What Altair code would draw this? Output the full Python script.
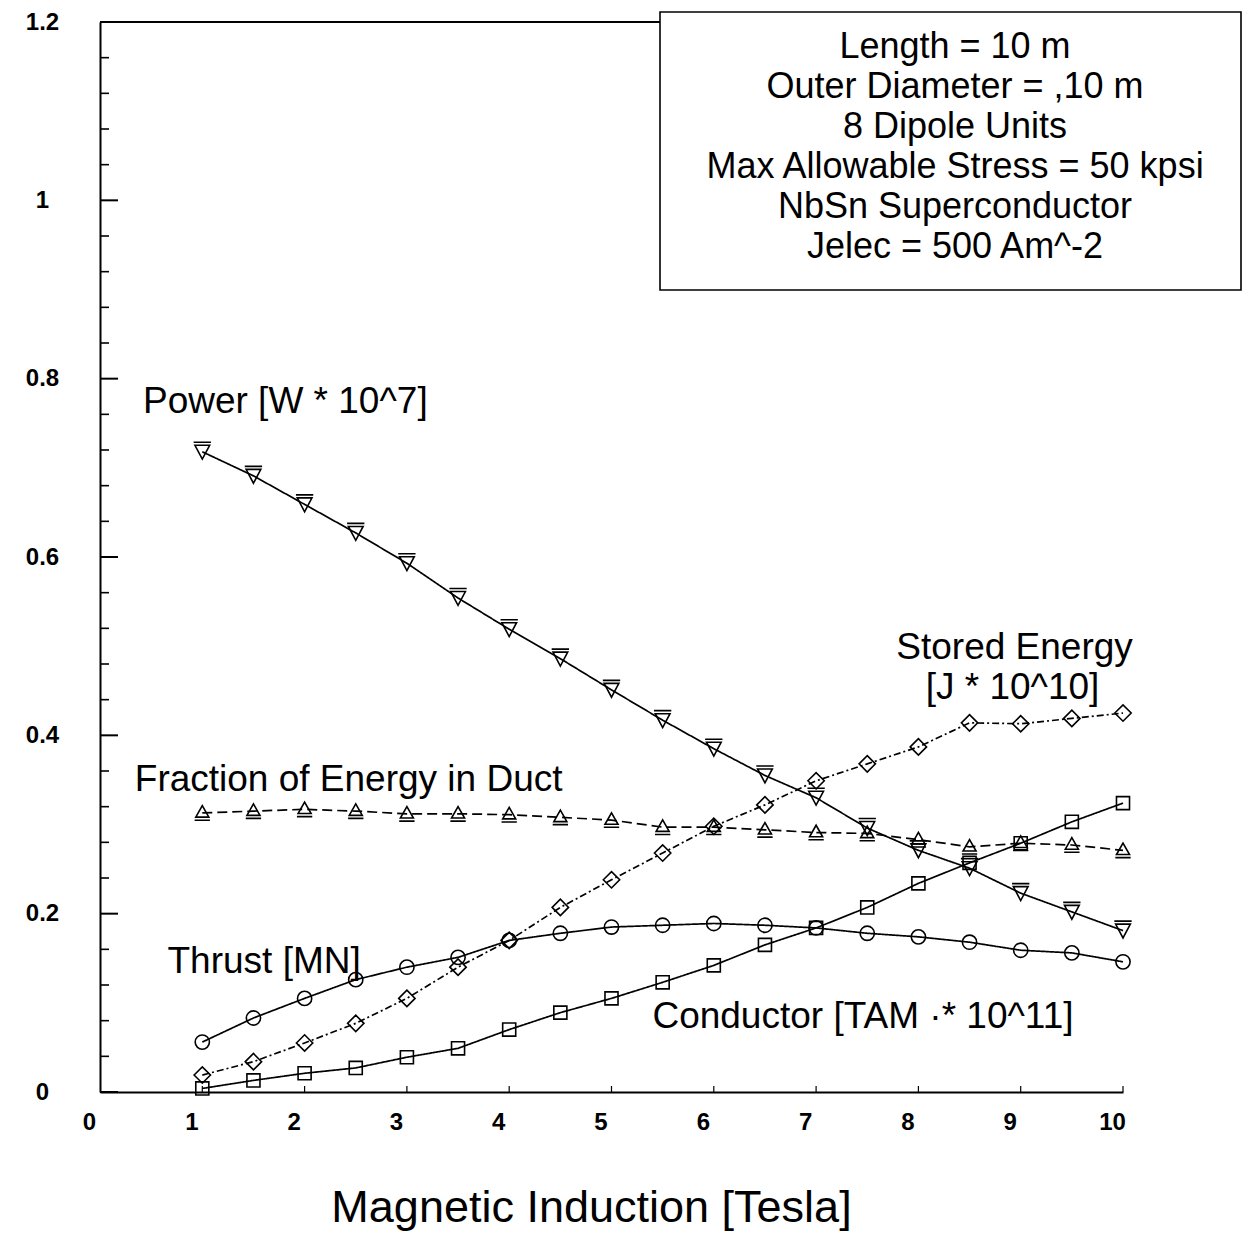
import altair as alt
import pandas as pd

# ---------------- data ----------------
b_field = [1, 1.5, 2, 2.5, 3, 3.5, 4, 4.5, 5, 5.5, 6, 6.5, 7, 7.5, 8, 8.5, 9, 9.5, 10]

power = [0.718, 0.691, 0.659, 0.627, 0.593, 0.554, 0.519, 0.486, 0.451, 0.417,
         0.385, 0.355, 0.330, 0.296, 0.271, 0.251, 0.223, 0.202, 0.181]
stored_energy = [0.019, 0.034, 0.055, 0.077, 0.105, 0.140, 0.170, 0.207, 0.238, 0.268,
                 0.298, 0.322, 0.349, 0.368, 0.387, 0.414, 0.413, 0.419, 0.425]
fraction = [0.313, 0.315, 0.317, 0.315, 0.312, 0.312, 0.311, 0.308, 0.305, 0.297,
            0.297, 0.294, 0.291, 0.290, 0.283, 0.275, 0.279, 0.277, 0.271]
thrust = [0.056, 0.083, 0.105, 0.126, 0.140, 0.151, 0.170, 0.178, 0.185, 0.187,
          0.189, 0.187, 0.184, 0.178, 0.174, 0.168, 0.159, 0.156, 0.146]
conductor = [0.004, 0.013, 0.021, 0.027, 0.039, 0.049, 0.070, 0.089, 0.105, 0.123,
             0.142, 0.165, 0.184, 0.207, 0.234, 0.257, 0.279, 0.303, 0.324]

series_names = ["Power", "Stored Energy", "Fraction", "Thrust", "Conductor"]
series_values = [power, stored_energy, fraction, thrust, conductor]

x_tick_values = [0, 1, 2, 3, 4, 5, 6, 7, 8, 9, 10]
y_tick_values = [0, 0.2, 0.4, 0.6, 0.8, 1.0, 1.2]
y_minor_ticks = [0.04, 0.08, 0.12, 0.16, 0.24, 0.28, 0.32, 0.36, 0.44, 0.48, 0.52, 0.56,
                 0.64, 0.68, 0.72, 0.76, 0.84, 0.88, 0.92, 0.96, 1.04, 1.08, 1.12, 1.16]

annot_text = ["Power [W * 10^7]", "Stored Energy", "[J * 10^10]",
              "Fraction of Energy in Duct", "Thrust [MN]", "Conductor [TAM ·* 10^11]"]
annot_x = [0.42, 8.94, 8.92, 0.34, 0.66, 5.40]
annot_y = [0.774, 0.498, 0.453, 0.350, 0.146, 0.084]
annot_align = ["left", "center", "center", "left", "left", "left"]

info_lines = ["Length = 10 m", "Outer Diameter = ,10 m", "8 Dipole Units",
              "Max Allowable Stress = 50 kpsi", "NbSn Superconductor", "Jelec = 500 Am^-2"]

# ---------------- build tables ----------------
rows = []
for name, vals in zip(series_names, series_values):
    for xv, yv in zip(b_field, vals):
        rows.append({"B": xv, "value": yv, "series": name})
df = pd.DataFrame(rows)

annot_df = pd.DataFrame({"text": annot_text, "x": annot_x, "y": annot_y, "align": annot_align})

FONT = "Liberation Sans"
W, H = 1023, 1070

xscale = alt.Scale(domain=[0, 10], nice=False, zero=False)
yscale = alt.Scale(domain=[0, 1.2], nice=False, zero=False)

shape_range = [
    "M-1,-1.1L1,-1.1M-0.85,-0.75L0.85,-0.75L0,0.85Z",   # power: inverted triangle with bar
    "diamond",
    "M-0.85,0.55L0.85,0.55L0,-0.95ZM-1,0.95L1,0.95",     # fraction: triangle with bar below
    "circle",
    "square",
]

x_enc = alt.X("B:Q", scale=xscale,
              axis=alt.Axis(values=x_tick_values, format="d", ticks=False, grid=False,
                            domainColor="black", domainWidth=2,
                            labelFontSize=24, labelFontWeight="bold", labelFont=FONT,
                            labelColor="black", labelPadding=18, labelOffset=-11,
                            labelFlush=False,
                            title="Magnetic Induction [Tesla]", titleFont=FONT,
                            titleFontSize=45, titleFontWeight="normal", titleColor="black",
                            titleX=491, titleY=129, titleBaseline="alphabetic",
                            titleAlign="center"))
y_enc = alt.Y("value:Q", scale=yscale,
              axis=alt.Axis(values=y_tick_values, format="~g", ticks=False, grid=False,
                            domainColor="black", domainWidth=2,
                            labelFontSize=24, labelFontWeight="bold", labelFont=FONT,
                            labelColor="black", labelAlign="center", labelPadding=58,
                            labelBaseline="middle", labelFlush=False, title=None))

base = alt.Chart(df)

lines = base.mark_line(color="black", strokeWidth=1.7).encode(
    x=x_enc, y=y_enc,
    strokeDash=alt.StrokeDash("series:N",
                              scale=alt.Scale(domain=series_names,
                                              range=[[1, 0], [7, 3, 2, 3], [10, 5], [1, 0], [1, 0]]),
                              legend=None),
    detail="series:N",
)

points = base.mark_point(filled=False, color="black", strokeWidth=1.6, opacity=1).encode(
    x=alt.X("B:Q", scale=xscale),
    y=alt.Y("value:Q", scale=yscale),
    shape=alt.Shape("series:N", scale=alt.Scale(domain=series_names, range=shape_range), legend=None),
    size=alt.Size("series:N", scale=alt.Scale(domain=series_names, range=[300, 170, 260, 230, 150]),
                  legend=None),
)

one = pd.DataFrame({"k": [0]})

major_ticks = alt.Chart(pd.DataFrame({"t": y_tick_values})).mark_rule(color="black", strokeWidth=2).encode(
    y=alt.Y("t:Q", scale=yscale), x=alt.value(0), x2=alt.value(18))
minor_ticks = alt.Chart(pd.DataFrame({"t": y_minor_ticks})).mark_rule(color="black", strokeWidth=1.6).encode(
    y=alt.Y("t:Q", scale=yscale), x=alt.value(0), x2=alt.value(9))
x_ticks = alt.Chart(pd.DataFrame({"t": x_tick_values[1:]})).mark_rule(color="black", strokeWidth=1.2).encode(
    x=alt.X("t:Q", scale=xscale), y=alt.value(H), y2=alt.value(H - 6))

top_spine = alt.Chart(one).mark_rule(color="black", strokeWidth=2).encode(
    x=alt.value(0), x2=alt.value(560), y=alt.value(0))

box = alt.Chart(one).mark_rect(fill="white", stroke="black", strokeWidth=1.6).encode(
    x=alt.value(560), x2=alt.value(1141), y=alt.value(-10), y2=alt.value(268))

box_text = alt.Chart(one).mark_text(
    text="\n".join(info_lines), lineBreak="\n", lineHeight=40, font=FONT, fontSize=36,
    align="center", baseline="middle", color="black").encode(
    x=alt.value(855), y=alt.value(25))

annots_left = alt.Chart(annot_df[annot_df["align"] == "left"]).mark_text(
    font=FONT, fontSize=37, baseline="middle", align="left", color="black").encode(
    x=alt.X("x:Q", scale=xscale), y=alt.Y("y:Q", scale=yscale), text="text:N")
annots_center = alt.Chart(annot_df[annot_df["align"] == "center"]).mark_text(
    font=FONT, fontSize=37, baseline="middle", align="center", color="black").encode(
    x=alt.X("x:Q", scale=xscale), y=alt.Y("y:Q", scale=yscale), text="text:N")

chart = alt.layer(
    lines, points, major_ticks, minor_ticks, x_ticks, top_spine, box, box_text,
    annots_left, annots_center
).properties(
    width=W, height=H,
    autosize=alt.AutoSizeParams(type="none"),
    padding={"left": 92, "top": 14, "right": 119, "bottom": 139},
).configure(font=FONT, background="white").configure_view(strokeWidth=0)

chart.save("out.html", embed_options={"renderer": "svg", "actions": False})
